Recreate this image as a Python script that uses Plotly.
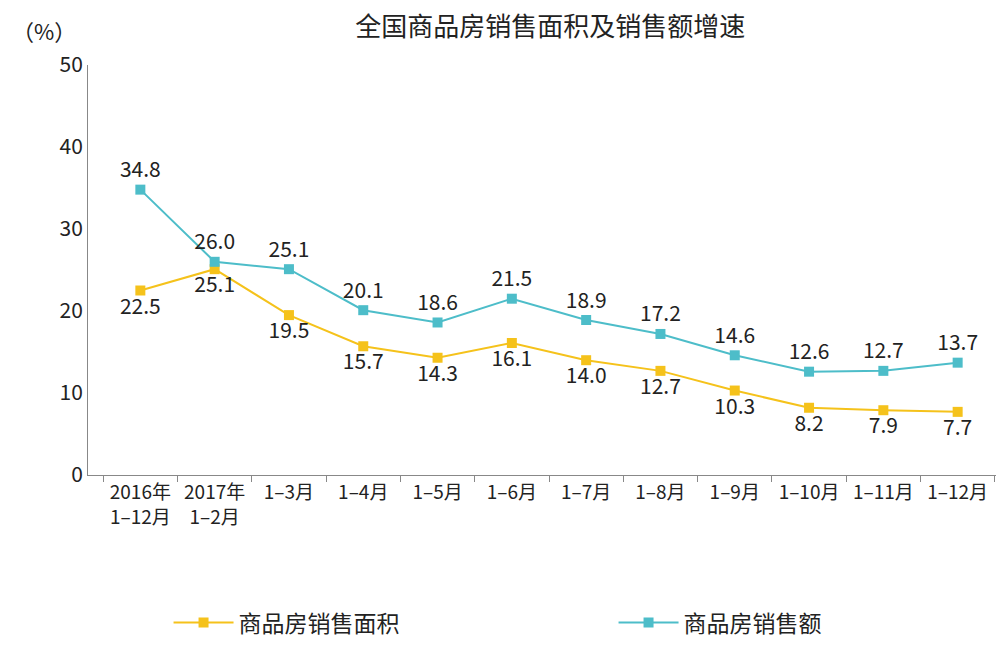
import plotly.graph_objects as go

categories = ["2016年<br>1–12月", "2017年<br>1–2月", "1–3月", "1–4月", "1–5月", "1–6月",
              "1–7月", "1–8月", "1–9月", "1–10月", "1–11月", "1–12月"]
area = [22.5, 25.1, 19.5, 15.7, 14.3, 16.1, 14.0, 12.7, 10.3, 8.2, 7.9, 7.7]
sales = [34.8, 26.0, 25.1, 20.1, 18.6, 21.5, 18.9, 17.2, 14.6, 12.6, 12.7, 13.7]

font = "Noto Sans CJK SC"
fig = go.Figure()
fig.add_trace(go.Scatter(x=categories, y=area, name="商品房销售面积", mode="lines+markers+text",
                         line=dict(color="#F5C21B", width=2), marker=dict(symbol="square", size=10),
                         text=[f"{v:.1f}" for v in area], textposition="bottom center",
                         textfont=dict(size=21, color="#222")))
fig.add_trace(go.Scatter(x=categories, y=sales, name="商品房销售额", mode="lines+markers+text",
                         line=dict(color="#4DBDC9", width=2), marker=dict(symbol="square", size=10),
                         text=[f"{v:.1f}" for v in sales], textposition="top center",
                         textfont=dict(size=21, color="#222")))
fig.update_layout(
    width=1004, height=670, plot_bgcolor="white", paper_bgcolor="white",
    margin=dict(l=80, r=2, t=57, b=203, autoexpand=False),
    font=dict(family=font, size=19, color="#222"),
    title=dict(text="全国商品房销售面积及销售额增速", x=0.54, y=0.985, xanchor="center",
               yanchor="top", font=dict(size=26)),
    xaxis=dict(showline=True, linecolor="#888", ticks="outside", tickson="boundaries",
               tickcolor="#888", ticklen=6, showgrid=False, tickangle=0),
    yaxis=dict(range=[0, 50], dtick=10, showline=True, linecolor="#888", showgrid=False,
               ticks="", zeroline=False, tickfont=dict(size=21)),
    legend=dict(orientation="h", x=0.57, xanchor="center", y=-0.36, yanchor="middle",
                font=dict(size=23), itemwidth=60, entrywidth=370),
    showlegend=True,
)
fig.add_annotation(text="（%）", xref="paper", yref="paper", x=-0.085, y=1.13,
                   xanchor="left", showarrow=False, font=dict(size=22))
fig.write_html("out.html")
